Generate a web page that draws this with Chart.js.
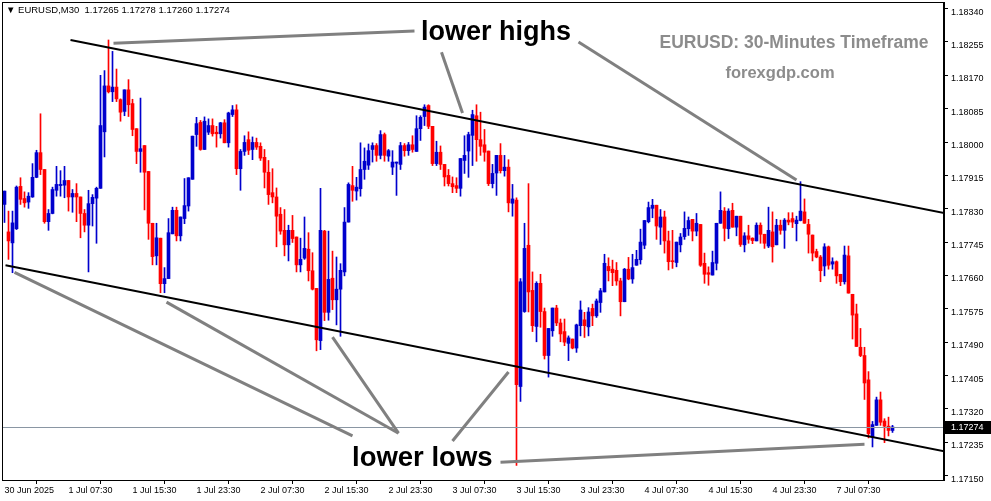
<!DOCTYPE html>
<html>
<head>
<meta charset="utf-8">
<script src="https://cdn.jsdelivr.net/npm/chart.js@4.4.1/dist/chart.umd.min.js"></script>
<style>
    html, body { margin: 0; padding: 0; background: #fff; }
    #wrap { width: 991px; height: 501px; }
</style>
</head>
<body>
<div id="wrap"><canvas id="grafico" width="991" height="501"></canvas></div>
<script>
// ================= DADOS (EURUSD M30) =================
const candleOpen = [
    1.17841,1.17771,1.17743,1.17779,1.17887,1.17856,1.17847,1.17860,1.17910,1.17973,
    1.17930,1.17797,1.17818,1.17877,1.17889,1.17890,1.17902,1.17860,1.17869,1.17860,
    1.17818,1.17788,1.17843,1.17857,1.17882,1.18026,1.18143,1.18128,1.18140,1.18108,
    1.18078,1.18133,1.18098,1.18034,1.17976,1.17991,1.17925,1.17793,1.17710,1.17755,
    1.17639,1.17652,1.17766,1.17826,1.17761,1.17805,1.17837,1.17905,1.18019,1.18050,
    1.17981,1.18025,1.18042,1.18025,1.18021,1.18049,1.17998,1.18070,1.18082,1.17932,
    1.17976,1.18006,1.17981,1.17999,1.17989,1.17961,1.17923,1.17871,1.17860,1.17816,
    1.17775,1.17738,1.17775,1.17758,1.17687,1.17704,1.17727,1.17672,1.17627,1.17494,
    1.17773,1.17566,1.17653,1.17598,1.17625,1.17669,1.17796,1.17889,1.17875,1.17881,
    1.17930,1.17941,1.17981,1.17991,1.17966,1.18019,1.17964,1.17936,1.17946,1.17943,
    1.17991,1.17978,1.17993,1.17976,1.18034,1.18065,1.18093,1.18040,1.17945,1.17974,
    1.17943,1.17915,1.17894,1.17889,1.17882,1.17953,1.17977,1.18017,1.18067,1.18006,
    1.17993,1.17977,1.17894,1.17921,1.17966,1.17927,1.17936,1.17844,1.17852,1.17377,
    1.17568,1.17737,1.17622,1.17530,1.17640,1.17568,1.17456,1.17519,1.17577,1.17539,
    1.17517,1.17487,1.17498,1.17475,1.17532,1.17547,1.17529,1.17576,1.17557,1.17591,
    1.17618,1.17683,1.17676,1.17673,1.17646,1.17593,1.17676,1.17651,1.17686,1.17700,
    1.17737,1.17797,1.17831,1.17839,1.17783,1.17809,1.17748,1.17697,1.17693,1.17738,
    1.17759,1.17779,1.17803,1.17773,1.17790,1.17691,1.17667,1.17661,1.17691,1.17793,
    1.17824,1.17779,1.17826,1.17783,1.17811,1.17738,1.17761,1.17755,1.17748,1.17788,
    1.17765,1.17735,1.17771,1.17738,1.17788,1.17775,1.17801,1.17805,1.17792,1.17800,
    1.17822,1.17790,1.17763,1.17721,1.17707,1.17684,1.17733,1.17689,1.17695,1.17663,
    1.17644,1.17710,1.17612,1.17562,1.17477,1.17456,1.17394,1.17248,1.17278,1.17343,
    1.17289,1.17276,1.17265
];
const candleHigh = [
    1.17875,1.17824,1.17824,1.17888,1.17909,1.17873,1.17871,1.17945,1.17979,1.18072,
    1.17930,1.17828,1.17885,1.17938,1.17927,1.17938,1.17902,1.17879,1.17894,1.17860,
    1.17828,1.17877,1.17866,1.17885,1.18170,1.18182,1.18260,1.18231,1.18186,1.18110,
    1.18133,1.18159,1.18109,1.18034,1.18112,1.17991,1.17925,1.17793,1.17793,1.17755,
    1.17680,1.17805,1.17834,1.17834,1.17809,1.17907,1.17909,1.18015,1.18063,1.18055,
    1.18064,1.18059,1.18059,1.18040,1.18050,1.18057,1.18076,1.18093,1.18095,1.17981,
    1.18016,1.18026,1.18013,1.18010,1.17998,1.17981,1.17953,1.17932,1.17883,1.17833,
    1.17828,1.17788,1.17813,1.17758,1.17755,1.17809,1.17769,1.17718,1.17627,1.17882,
    1.17775,1.17773,1.17722,1.17707,1.17690,1.17833,1.17896,1.17938,1.17910,1.17998,
    1.17985,1.17995,1.17998,1.17996,1.18029,1.18023,1.17981,1.17978,1.17949,1.17999,
    1.17996,1.17999,1.18016,1.18067,1.18067,1.18095,1.18095,1.18040,1.18002,1.17990,
    1.17943,1.17930,1.17911,1.17909,1.17958,1.18016,1.18025,1.18081,1.18095,1.18076,
    1.18032,1.17977,1.17943,1.17966,1.17996,1.17966,1.17955,1.17892,1.17858,1.17652,
    1.17793,1.17894,1.17669,1.17644,1.17663,1.17577,1.17525,1.17577,1.17584,1.17549,
    1.17549,1.17506,1.17498,1.17536,1.17595,1.17566,1.17578,1.17587,1.17600,1.17627,
    1.17714,1.17705,1.17699,1.17693,1.17653,1.17678,1.17706,1.17714,1.17724,1.17778,
    1.17800,1.17847,1.17854,1.17839,1.17828,1.17824,1.17773,1.17775,1.17745,1.17767,
    1.17822,1.17809,1.17803,1.17818,1.17790,1.17717,1.17682,1.17722,1.17793,1.17873,
    1.17833,1.17830,1.17844,1.17811,1.17811,1.17769,1.17788,1.17756,1.17794,1.17794,
    1.17765,1.17834,1.17822,1.17803,1.17801,1.17805,1.17820,1.17820,1.17811,1.17899,
    1.17855,1.17803,1.17763,1.17727,1.17711,1.17741,1.17735,1.17705,1.17697,1.17663,
    1.17735,1.17735,1.17612,1.17587,1.17525,1.17477,1.17415,1.17288,1.17350,1.17363,
    1.17295,1.17299,1.17278
];
const candleLow = [
    1.17795,1.17701,1.17667,1.17777,1.17841,1.17834,1.17831,1.17859,1.17909,1.17917,
    1.17793,1.17775,1.17817,1.17862,1.17862,1.17858,1.17824,1.17821,1.17797,1.17756,
    1.17771,1.17669,1.17786,1.17742,1.17882,1.17962,1.18125,1.18103,1.18103,1.18053,
    1.18067,1.18065,1.18016,1.17945,1.17923,1.17827,1.17752,1.17687,1.17687,1.17616,
    1.17616,1.17652,1.17766,1.17748,1.17748,1.17792,1.17824,1.17905,1.17989,1.17979,
    1.17981,1.18019,1.18015,1.17987,1.18010,1.17998,1.17987,1.18065,1.17917,1.17877,
    1.17966,1.17968,1.17955,1.17981,1.17953,1.17883,1.17841,1.17845,1.17733,1.17765,
    1.17710,1.17697,1.17744,1.17669,1.17669,1.17701,1.17646,1.17623,1.17468,1.17471,
    1.17545,1.17546,1.17573,1.17534,1.17505,1.17659,1.17796,1.17849,1.17852,1.17862,
    1.17905,1.17930,1.17949,1.17951,1.17957,1.17951,1.17951,1.17917,1.17864,1.17930,
    1.17964,1.17966,1.17974,1.17976,1.18004,1.18042,1.18034,1.17940,1.17940,1.17930,
    1.17888,1.17888,1.17871,1.17871,1.17862,1.17920,1.17910,1.17940,1.17951,1.17966,
    1.17951,1.17889,1.17883,1.17864,1.17921,1.17913,1.17822,1.17811,1.17176,1.17339,
    1.17566,1.17567,1.17517,1.17491,1.17528,1.17447,1.17401,1.17505,1.17532,1.17491,
    1.17481,1.17443,1.17473,1.17464,1.17506,1.17502,1.17506,1.17532,1.17553,1.17566,
    1.17618,1.17646,1.17634,1.17635,1.17557,1.17593,1.17649,1.17640,1.17686,1.17689,
    1.17728,1.17794,1.17807,1.17752,1.17739,1.17717,1.17674,1.17678,1.17682,1.17720,
    1.17752,1.17762,1.17748,1.17761,1.17683,1.17640,1.17635,1.17661,1.17674,1.17793,
    1.17748,1.17754,1.17783,1.17761,1.17734,1.17720,1.17742,1.17741,1.17748,1.17742,
    1.17729,1.17731,1.17694,1.17738,1.17765,1.17729,1.17789,1.17782,1.17748,1.17799,
    1.17793,1.17717,1.17697,1.17705,1.17644,1.17659,1.17676,1.17676,1.17640,1.17634,
    1.17638,1.17615,1.17498,1.17479,1.17453,1.17344,1.17246,1.17223,1.17278,1.17278,
    1.17234,1.17251,1.17260
];
const candleClose = [
    1.17875,1.17748,1.17794,1.17885,1.17854,1.17845,1.17862,1.17910,1.17973,1.17930,
    1.17797,1.17818,1.17879,1.17892,1.17892,1.17902,1.17860,1.17869,1.17860,1.17818,
    1.17788,1.17843,1.17859,1.17882,1.18042,1.18143,1.18128,1.18140,1.18110,1.18076,
    1.18133,1.18095,1.18032,1.17976,1.17983,1.17923,1.17793,1.17708,1.17756,1.17639,
    1.17652,1.17769,1.17826,1.17761,1.17809,1.17838,1.17909,1.18015,1.18047,1.17981,
    1.18053,1.18042,1.18021,1.18021,1.18049,1.17998,1.18074,1.18082,1.17932,1.17976,
    1.17999,1.17979,1.17999,1.17987,1.17959,1.17923,1.17866,1.17860,1.17811,1.17773,
    1.17738,1.17775,1.17754,1.17687,1.17701,1.17729,1.17672,1.17625,1.17496,1.17775,
    1.17566,1.17650,1.17598,1.17625,1.17673,1.17796,1.17892,1.17877,1.17885,1.17930,
    1.17951,1.17978,1.17991,1.17966,1.18019,1.17966,1.17978,1.17949,1.17949,1.17991,
    1.17978,1.17993,1.17981,1.18034,1.18063,1.18089,1.18040,1.17945,1.17974,1.17943,
    1.17911,1.17894,1.17886,1.17882,1.17958,1.17966,1.18019,1.18070,1.18006,1.17989,
    1.17974,1.17894,1.17920,1.17966,1.17927,1.17936,1.17845,1.17855,1.17382,1.17644,
    1.17729,1.17618,1.17532,1.17640,1.17568,1.17456,1.17525,1.17577,1.17539,1.17511,
    1.17490,1.17501,1.17475,1.17534,1.17572,1.17532,1.17567,1.17557,1.17595,1.17621,
    1.17691,1.17672,1.17667,1.17646,1.17593,1.17676,1.17651,1.17680,1.17701,1.17745,
    1.17800,1.17833,1.17839,1.17786,1.17809,1.17748,1.17695,1.17695,1.17745,1.17758,
    1.17780,1.17800,1.17773,1.17793,1.17686,1.17663,1.17663,1.17693,1.17793,1.17826,
    1.17780,1.17824,1.17783,1.17811,1.17739,1.17761,1.17752,1.17749,1.17788,1.17765,
    1.17742,1.17775,1.17733,1.17788,1.17775,1.17801,1.17796,1.17796,1.17801,1.17824,
    1.17793,1.17765,1.17717,1.17707,1.17672,1.17733,1.17686,1.17695,1.17659,1.17644,
    1.17712,1.17615,1.17559,1.17479,1.17456,1.17386,1.17257,1.17280,1.17343,1.17286,
    1.17276,1.17265,1.17274
];

// eixo de tempo: um rotulo a cada 16 velas (8 horas)
const timeLabels = [
    '30 Jun 2025', '1 Jul 07:30', '1 Jul 15:30', '1 Jul 23:30', '2 Jul 07:30',
    '2 Jul 15:30', '2 Jul 23:30', '3 Jul 07:30', '3 Jul 15:30', '3 Jul 23:30',
    '4 Jul 07:30', '4 Jul 15:30', '4 Jul 23:30', '7 Jul 07:30'
];
const labelEvery = 16;
const slotMin = -0.625;   // meia vela de margem a esquerda
const slotMax = 234.875;  // espaco vazio a direita (chart shift)

const priceTicks = [
    1.17150, 1.17235, 1.17320, 1.17405, 1.17490, 1.17575, 1.17660, 1.17745,
    1.17830, 1.17915, 1.18000, 1.18085, 1.18170, 1.18255, 1.18340
];
const priceMin = 1.171388;
const priceMax = 1.183568;

const headerText = '\u25BC EURUSD,M30  1.17265 1.17278 1.17260 1.17274';
const bidPrice = 1.17274;

// linhas desenhadas no grafico: [indice, preco]
const channelLines = [
    [[16.5, 1.18260], [235, 1.17819]],
    [[0.25, 1.17686], [235, 1.17212]]
];
const highArrows = [
    [[102.5, 1.18283], [27.25, 1.18252]],
    [[109.25, 1.18229], [114.5, 1.18074]],
    [[143.5, 1.18255], [198, 1.17903]]
];
const lowArrows = [
    [[87, 1.17251], [2.5, 1.17668]],
    [[98.5, 1.17258], [40.5, 1.17592]],
    [[98.5, 1.17258], [82, 1.17503]],
    [[112, 1.17238], [126, 1.17414]],
    [[124, 1.17184], [215, 1.17230]]
];

const UP = '#0000cd';
const DOWN = '#ff0000';
const AXIS_FONT = { family: 'Liberation Sans', size: 9 };

// ================= MONTAGEM =================
const candleColors = candleOpen.map((o, i) => candleClose[i] >= o ? UP : DOWN);
const bodies = candleOpen.map((o, i) => ({ x: i, y: [o, candleClose[i]] }));
const wicks = candleLow.map((l, i) => ({ x: i, y: [l, candleHigh[i]] }));

function drawSegments(ctx, chart, list, color, width) {
    const x = chart.scales.x;
    const y = chart.scales.y;
    ctx.strokeStyle = color;
    ctx.lineWidth = width;
    list.forEach(seg => {
        ctx.beginPath();
        ctx.moveTo(x.getPixelForValue(seg[0][0]), y.getPixelForValue(seg[0][1]));
        ctx.lineTo(x.getPixelForValue(seg[1][0]), y.getPixelForValue(seg[1][1]));
        ctx.stroke();
    });
}

const overlayPlugin = {
    id: 'overlay',
    afterDatasetsDraw(chart) {
        const { ctx, chartArea } = chart;
        const y = chart.scales.y;
        ctx.save();
        ctx.beginPath();
        ctx.rect(chartArea.left, chartArea.top, chartArea.right - chartArea.left, chartArea.bottom - chartArea.top);
        ctx.clip();

        // linha do bid
        const by = Math.round(y.getPixelForValue(bidPrice)) + 0.5;
        ctx.strokeStyle = '#8a96a3';
        ctx.lineWidth = 1;
        ctx.beginPath();
        ctx.moveTo(chartArea.left, by);
        ctx.lineTo(chartArea.right, by);
        ctx.stroke();

        drawSegments(ctx, chart, channelLines, '#000', 2);
        drawSegments(ctx, chart, highArrows, '#808080', 3);
        drawSegments(ctx, chart, lowArrows, '#808080', 3);
        ctx.restore();
    },
    afterDraw(chart) {
        const { ctx, chartArea } = chart;
        const y = chart.scales.y;
        ctx.save();

        // moldura
        ctx.strokeStyle = '#000';
        ctx.lineWidth = 1;
        ctx.strokeRect(chartArea.left + 0.5, chartArea.top + 0.5,
            chartArea.right - chartArea.left - 1, chartArea.bottom - chartArea.top);

        // textos
        ctx.fillStyle = '#000';
        ctx.textBaseline = 'middle';
        ctx.textAlign = 'left';
        ctx.font = 'bold 27px "Liberation Sans"';
        ctx.fillText('lower highs', 421, 33);
        ctx.font = 'bold 27.5px "Liberation Sans"';
        ctx.fillText('lower lows', 352, 458);

        ctx.fillStyle = '#8c8c8c';
        ctx.font = 'bold 17.5px "Liberation Sans"';
        ctx.textAlign = 'center';
        ctx.fillText('EURUSD: 30-Minutes Timeframe', 794, 43);
        ctx.font = 'bold 16.5px "Liberation Sans"';
        ctx.fillText('forexgdp.com', 780, 73);

        // cabecalho
        ctx.fillStyle = '#000';
        ctx.textAlign = 'left';
        ctx.font = '9.5px "Liberation Sans"';
        ctx.fillText(headerText, 6, 10);

        // etiqueta do bid
        const by = Math.round(y.getPixelForValue(bidPrice));
        ctx.fillStyle = '#000';
        ctx.fillRect(chartArea.right + 1, by - 6, 46, 13);
        ctx.fillStyle = '#fff';
        ctx.font = '9px "Liberation Sans"';
        ctx.fillText(bidPrice.toFixed(5), chartArea.right + 7, by + 0.5);
        ctx.restore();
    }
};

new Chart(document.getElementById('grafico'), {
    type: 'bar',
    data: {
        datasets: [
            {
                label: 'corpo',
                data: bodies,
                backgroundColor: candleColors,
                barThickness: 3,
                minBarLength: 1,
                grouped: false,
                borderWidth: 0
            },
            {
                label: 'pavio',
                data: wicks,
                backgroundColor: candleColors,
                barThickness: 1,
                grouped: false,
                borderWidth: 0
            }
        ]
    },
    options: {
        responsive: false,
        animation: false,
        events: [],
        layout: { padding: { left: 2, top: 2, right: 0, bottom: 0 } },
        plugins: {
            legend: { display: false },
            tooltip: { enabled: false }
        },
        scales: {
            x: {
                type: 'linear',
                min: slotMin,
                max: slotMax,
                offset: false,
                afterBuildTicks: scale => {
                    scale.ticks = timeLabels.map((t, k) => ({ value: k * labelEvery }));
                },
                afterFit: scale => {
                    scale.height = 21;
                    scale.paddingLeft = 0;
                    scale.paddingRight = 0;
                },
                grid: { drawOnChartArea: false, drawTicks: true, tickLength: 4, color: '#000' },
                border: { display: true, color: '#000' },
                ticks: {
                    autoSkip: false,
                    maxRotation: 0,
                    minRotation: 0,
                    align: 'start',
                    padding: 1,
                    color: '#000',
                    font: AXIS_FONT,
                    callback: value => timeLabels[Math.round(value / labelEvery)] || ''
                }
            },
            y: {
                type: 'linear',
                position: 'right',
                min: priceMin,
                max: priceMax,
                afterBuildTicks: scale => {
                    scale.ticks = priceTicks.map(v => ({ value: v }));
                },
                afterFit: scale => {
                    scale.width = 47;
                    scale.paddingTop = 0;
                    scale.paddingBottom = 0;
                },
                grid: { drawOnChartArea: false, drawTicks: true, tickLength: 4, color: '#000' },
                border: { display: true, color: '#000' },
                ticks: {
                    padding: 3,
                    labelOffset: 3.5,
                    color: '#000',
                    font: AXIS_FONT,
                    callback: value => value.toFixed(5)
                }
            }
        }
    },
    plugins: [overlayPlugin]
});
</script>
</body>
</html>
